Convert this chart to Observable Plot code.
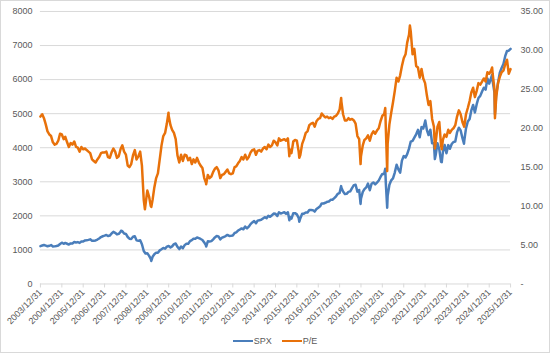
<!DOCTYPE html>
<html>
<head>
<meta charset="utf-8">
<script src="https://cdn.jsdelivr.net/npm/d3@7"></script>
<script src="https://cdn.jsdelivr.net/npm/@observablehq/plot@0.6"></script>
<style>
  body { margin: 0; background: #fff; }
  #wrap { position: relative; width: 550px; height: 353px; box-sizing: border-box; border: 1px solid #d9d9d9; overflow: hidden; background: #fff; }
  #chart { position: absolute; left: -1px; top: -1px; }
  #legend { position: absolute; left: -1px; top: 332px; width: 550px; height: 16px; display: flex; justify-content: center; align-items: center; gap: 10px;
            font-family: "Liberation Sans Narrow", "Liberation Sans", Arial, sans-serif; font-size: 9px; color: #595959; }
  .item { display: flex; align-items: center; gap: 1px; }
  .swatch { display: inline-block; width: 20px; height: 2.5px; }
</style>
</head>
<body>
<div id="wrap"><div id="chart"></div><div id="legend"></div></div>
<script>
// ---- data (month-end values, Dec 2003 .. Dec 2025) ----
const seriesNames = ["SPX", "P/E"];
const seriesColors = ["#4A7EBB", "#E8710A"];

const spxMonthly = [
  1112,
  1131,1145,1126,1107,1121,1141,1102,1104,1115,1130,1174,1212,
  1181,1204,1181,1157,1192,1191,1234,1220,1229,1207,1249,1248,
  1280,1281,1295,1311,1270,1270,1277,1304,1336,1378,1401,1418,
  1438,1407,1421,1482,1531,1503,1455,1474,1527,1549,1481,1468,
  1379,1331,1323,1386,1400,1280,1267,1283,1166,969,896,903,
  826,735,798,873,919,919,987,1021,1057,1036,1096,1115,
  1074,1104,1169,1187,1089,1031,1102,1049,1141,1183,1181,1258,
  1286,1327,1326,1364,1345,1321,1292,1219,1131,1253,1247,1258,
  1312,1366,1408,1398,1310,1362,1379,1407,1441,1412,1416,1426,
  1498,1515,1569,1598,1631,1606,1686,1633,1682,1757,1806,1848,
  1783,1859,1872,1884,1924,1960,1931,2003,1972,2018,2068,2059,
  1995,2105,2068,2086,2107,2063,2104,1972,1920,2079,2080,2044,
  1940,1932,2060,2065,2097,2099,2174,2171,2168,2126,2199,2239,
  2279,2364,2363,2384,2412,2423,2470,2472,2519,2575,2648,2674,
  2824,2714,2641,2648,2705,2718,2816,2902,2914,2712,2760,2507,
  2704,2784,2834,2946,2752,2942,2980,2926,2977,3038,3141,3231,
  3226,2954,2585,2912,3044,3100,3271,3500,3363,3270,3622,3756,
  3714,3811,3973,4181,4204,4298,4395,4523,4308,4605,4567,4766,
  4516,4374,4530,4132,4132,3785,4130,3955,3586,3872,4080,3840,
  4077,3970,4109,4169,4180,4450,4589,4508,4288,4194,4568,4770,
  4846,5096,5254,5036,5278,5460,5522,5648,5762,5705,6032,5882,
  6041,5955,5612,5569,5912,6205,6339,6460,6688,6840,6849,6900
];
const spxExtremes = [
  ["2007-10-09",1565],["2009-03-09",677],["2010-07-02",1022],["2011-10-03",1099],
  ["2015-08-25",1868],["2016-02-11",1829],["2018-01-26",2873],["2018-12-24",2351],
  ["2020-02-19",3386],["2020-03-23",2237],["2022-01-03",4797],["2022-06-16",3666],
  ["2022-10-12",3577],["2023-10-27",4117],["2025-02-19",6144],["2025-04-08",4983]
];

const peMonthly = [
  21.5,
  21.8,21.3,20.5,19.6,19.2,19.0,18.2,17.9,18.0,18.4,19.3,19.2,
  18.6,18.9,18.2,17.6,18.1,17.9,18.3,17.6,17.5,17.0,17.6,17.3,
  17.4,17.2,17.0,16.8,16.0,15.8,15.6,16.0,16.3,16.8,16.9,16.9,
  17.0,16.3,16.2,16.9,17.4,17.0,16.2,16.4,17.3,17.8,17.0,16.6,
  15.2,15.0,15.4,16.5,17.2,16.0,16.4,17.0,15.2,10.8,10.2,12.0,
  11.2,10.0,10.8,12.4,13.6,14.2,16.0,17.8,19.0,19.4,20.6,21.6,
  20.4,19.8,19.4,18.6,16.5,15.6,16.6,15.8,16.6,16.5,15.9,16.2,
  15.4,16.0,15.6,16.2,15.6,15.2,14.9,13.6,13.0,14.0,13.6,13.8,
  14.4,14.8,15.0,14.6,13.6,14.0,14.1,14.4,14.7,14.2,14.1,14.2,
  15.0,15.1,15.5,15.8,16.3,16.0,16.6,16.0,16.3,16.9,17.2,17.3,
  16.6,17.1,17.2,17.0,17.4,17.6,17.3,17.9,17.6,17.8,18.4,18.2,
  17.8,18.7,18.4,18.5,18.6,18.4,18.7,17.3,16.8,18.3,18.5,18.4,
  17.0,16.6,18.0,18.6,19.4,19.6,20.4,20.6,20.7,20.2,20.9,21.2,
  21.3,21.9,21.6,21.4,21.5,21.3,21.4,21.2,21.5,21.6,21.9,22.4,
  23.4,21.8,21.0,21.0,21.3,21.1,21.2,21.0,20.6,19.0,18.6,16.4,
  17.8,18.5,18.7,19.1,18.4,19.2,19.6,19.3,19.7,20.0,20.9,21.6,
  21.8,20.0,18.0,20.5,22.0,23.3,24.8,26.5,26.0,26.8,28.0,29.0,
  29.5,31.0,32.0,32.4,29.5,30.2,28.0,27.8,26.5,27.6,26.4,25.8,
  24.2,23.0,23.5,21.2,20.2,18.2,20.2,20.8,17.8,18.5,19.2,18.9,
  19.8,19.4,19.8,20.0,20.4,21.5,22.3,21.8,20.8,20.2,21.8,22.6,
  23.5,24.6,25.2,24.0,24.8,25.8,25.6,26.0,26.4,26.0,27.2,27.0,
  27.4,27.0,25.0,24.0,25.8,26.6,27.2,27.4,28.2,28.8,27.0,27.6
];
const peExtremes = [
  ["2008-11-20",9.6],["2009-03-09",9.9],["2009-12-28",22.0],["2011-10-03",12.8],
  ["2015-08-25",16.4],["2016-02-11",16.2],["2018-01-26",23.9],["2018-12-24",15.4],
  ["2020-02-19",22.6],["2020-03-23",14.5],["2021-04-15",33.2],["2022-06-16",17.4],
  ["2022-10-12",17.3],["2025-02-19",27.8],["2025-04-08",21.3]
];

const xTickLabels = ["2003/12/31","2004/12/31","2005/12/31","2006/12/31","2007/12/31","2008/12/31",
  "2009/12/31","2010/12/31","2011/12/31","2012/12/31","2013/12/31","2014/12/31","2015/12/31",
  "2016/12/31","2017/12/31","2018/12/31","2019/12/31","2020/12/31","2021/12/31","2022/12/31",
  "2023/12/31","2024/12/31","2025/12/31"];
const spxTicks = [0,1000,2000,3000,4000,5000,6000,7000,8000];
const peTicks = [0,5,10,15,20,25,30,35];

// ---- build tables ----
const parse = s => new Date(s.replace(/\//g, "-") + "T00:00:00Z");
const monthEnd = i => new Date(Date.UTC(2004, i, 0)); // i=0 -> 2003-12-31
function build(monthly, extremes) {
  const rows = monthly.map((v, i) => ({date: monthEnd(i), value: v}));
  extremes.forEach(([d, v]) => rows.push({date: parse(d), value: v}));
  return rows.sort((a, b) => a.date - b.date);
}
const spx = build(spxMonthly, spxExtremes);
const pe = build(peMonthly, peExtremes);

const SPX_MAX = 8000, PE_MAX = 35, k = SPX_MAX / PE_MAX;
const xTicks = xTickLabels.map(parse);
const labelOf = new Map(xTicks.map((d, i) => [+d, xTickLabels[i]]));
const font = '"Liberation Sans Narrow", "Liberation Sans", Arial, sans-serif';

const chart = Plot.plot({
  width: 550,
  height: 325,
  marginLeft: 40,
  marginRight: 39,
  marginTop: 11,
  marginBottom: 41,
  style: {fontFamily: font, fontSize: "9px", color: "#595959", background: "transparent", overflow: "visible"},
  x: {type: "utc", domain: [xTicks[0], xTicks[xTicks.length - 1]]},
  y: {domain: [0, SPX_MAX]},
  marks: [
    Plot.gridY(spxTicks.slice(1), {stroke: "#d9d9d9", strokeOpacity: 1, strokeWidth: 1}),
    Plot.ruleY([0], {stroke: "#d9d9d9", strokeWidth: 1}),
    Plot.axisY(spxTicks, {anchor: "left", label: null, tickSize: 0, tickPadding: 8, tickFormat: d => String(d), fill: "#595959"}),
    Plot.axisY(peTicks.map(v => v * k), {anchor: "right", label: null, tickSize: 0, tickPadding: 10,
      tickFormat: v => (v === 0 ? "-" : (v / k).toFixed(2)), fill: "#595959"}),
    Plot.axisX(xTicks, {anchor: "bottom", label: null, tickSize: 4, stroke: "#d9d9d9", tickPadding: 3, tickRotate: -45,
      tickFormat: d => labelOf.get(+d), fill: "#595959"}),
    Plot.lineY(spx, {x: "date", y: "value", stroke: seriesColors[0], strokeWidth: 2.5}),
    Plot.lineY(pe, {x: "date", y: d => d.value * k, stroke: seriesColors[1], strokeWidth: 2.5})
  ]
});
document.getElementById("chart").append(chart);

const legend = document.getElementById("legend");
seriesNames.forEach((name, i) => {
  const item = document.createElement("div");
  item.className = "item";
  const sw = document.createElement("span");
  sw.className = "swatch";
  sw.style.background = seriesColors[i];
  const t = document.createElement("span");
  t.textContent = name;
  item.append(sw, t);
  legend.append(item);
});
</script>
</body>
</html>
